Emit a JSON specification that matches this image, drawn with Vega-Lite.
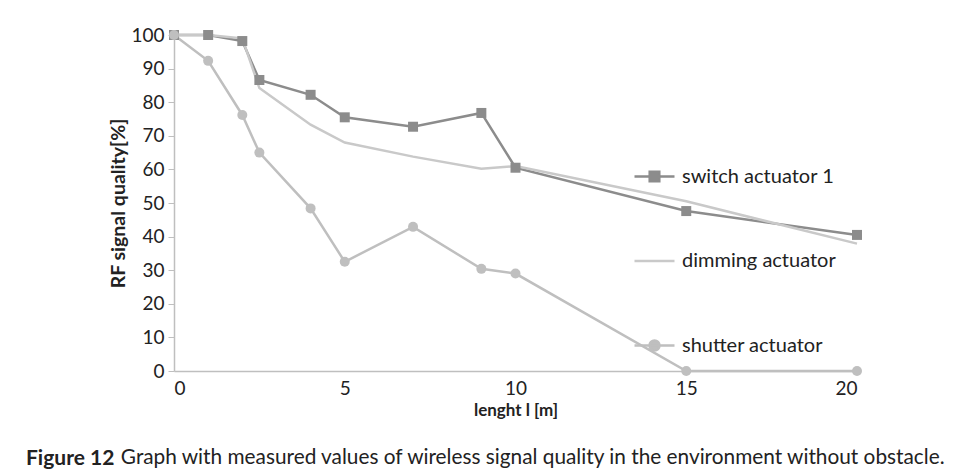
{
  "$schema": "https://vega.github.io/schema/vega-lite/v6.json",
  "width": 683,
  "height": 336,
  "autosize": {"type": "none"},
  "padding": {"left": 174, "top": 35, "right": 101, "bottom": 99},
  "background": "white",
  "config": {"view": {"stroke": null}, "font": "Lato"},
  "title": {
    "text": "Figure 12",
    "subtitle": "\u2800\u00a0\u00a0\u00a0\u00a0\u00a0\u00a0\u00a0\u00a0\u00a0\u00a0\u00a0\u00a0\u00a0\u00a0\u00a0Graph with measured values of wireless signal quality in the environment without obstacle.",
    "orient": "bottom",
    "anchor": "start",
    "frame": "group",
    "dx": -148,
    "offset": 30,
    "fontSize": 21,
    "fontWeight": "bold",
    "subtitleFontSize": 20.8,
    "subtitleFontWeight": "normal",
    "subtitlePadding": -21,
    "color": "#222222",
    "subtitleColor": "#222222"
  },
  "data": {
    "values": [
      {"series": "switch actuator 1", "length": 0, "quality": 100},
      {"series": "switch actuator 1", "length": 1, "quality": 100},
      {"series": "switch actuator 1", "length": 2, "quality": 98.2},
      {"series": "switch actuator 1", "length": 2.5, "quality": 86.6},
      {"series": "switch actuator 1", "length": 4, "quality": 82.2},
      {"series": "switch actuator 1", "length": 5, "quality": 75.5},
      {"series": "switch actuator 1", "length": 7, "quality": 72.7},
      {"series": "switch actuator 1", "length": 9, "quality": 76.8},
      {"series": "switch actuator 1", "length": 10, "quality": 60.5},
      {"series": "switch actuator 1", "length": 15, "quality": 47.6},
      {"series": "switch actuator 1", "length": 20, "quality": 40.5},
      {"series": "dimming actuator", "length": 0, "quality": 100},
      {"series": "dimming actuator", "length": 1, "quality": 100},
      {"series": "dimming actuator", "length": 2, "quality": 99},
      {"series": "dimming actuator", "length": 2.5, "quality": 84.2},
      {"series": "dimming actuator", "length": 4, "quality": 73.3},
      {"series": "dimming actuator", "length": 5, "quality": 68},
      {"series": "dimming actuator", "length": 7, "quality": 63.8},
      {"series": "dimming actuator", "length": 9, "quality": 60.2},
      {"series": "dimming actuator", "length": 10, "quality": 61},
      {"series": "dimming actuator", "length": 15, "quality": 50.5},
      {"series": "dimming actuator", "length": 20, "quality": 37.9},
      {"series": "shutter actuator", "length": 0, "quality": 100},
      {"series": "shutter actuator", "length": 1, "quality": 92.3},
      {"series": "shutter actuator", "length": 2, "quality": 76.2},
      {"series": "shutter actuator", "length": 2.5, "quality": 65},
      {"series": "shutter actuator", "length": 4, "quality": 48.4},
      {"series": "shutter actuator", "length": 5, "quality": 32.5},
      {"series": "shutter actuator", "length": 7, "quality": 42.9},
      {"series": "shutter actuator", "length": 9, "quality": 30.4},
      {"series": "shutter actuator", "length": 10, "quality": 29},
      {"series": "shutter actuator", "length": 15, "quality": 0},
      {"series": "shutter actuator", "length": 20, "quality": 0}
    ]
  },
  "encoding": {
    "x": {
      "field": "length",
      "type": "quantitative",
      "scale": {"domain": [0, 20], "nice": false, "zero": false},
      "axis": {
        "title": "lenght l [m]",
        "values": [0, 5, 10, 15, 20],
        "grid": false,
        "ticks": false,
        "domainColor": "#bfbfbf",
        "domainWidth": 1.5,
        "labelFontSize": 19,
        "labelColor": "#222222",
        "labelPadding": 8,
        "titleFontSize": 17,
        "titleFontWeight": "bold",
        "titleColor": "#222222",
        "titlePadding": 4
      }
    },
    "y": {
      "field": "quality",
      "type": "quantitative",
      "scale": {"domain": [0, 100], "nice": false},
      "axis": {
        "title": "RF signal quality[%]",
        "values": [0, 10, 20, 30, 40, 50, 60, 70, 80, 90, 100],
        "grid": false,
        "ticks": true,
        "tickSize": 6,
        "tickColor": "#bfbfbf",
        "domainColor": "#bfbfbf",
        "domainWidth": 1.5,
        "labelFontSize": 19,
        "labelColor": "#222222",
        "labelPadding": 4,
        "titleFontSize": 19.5,
        "titleFontWeight": "bold",
        "titleColor": "#222222",
        "titlePadding": 2
      }
    },
    "color": {
      "field": "series",
      "type": "nominal",
      "scale": {
        "domain": ["switch actuator 1", "dimming actuator", "shutter actuator"],
        "range": ["#8c8c8c", "#c9c9c9", "#bfbfbf"]
      },
      "legend": {
        "orient": "none",
        "legendX": 459,
        "legendY": 120,
        "title": null,
        "symbolSize": 1600,
        "symbolStrokeWidth": 2.5,
        "rowPadding": 52.5,
        "labelFontSize": 20,
        "labelColor": "#222222",
        "labelOffset": 6,
        "labelLimit": 300,
        "encode": {
          "symbols": {
            "update": {
              "shape": {"signal": "datum.value === 'switch actuator 1' ? 'M-1,0H1M-0.24,-0.24H0.24V0.24H-0.24Z' : (datum.value === 'shutter actuator' ? 'M-1,0H1M0.25,0A0.25,0.25,0,1,1,-0.25,0A0.25,0.25,0,1,1,0.25,0Z' : 'M-1,0H1')"},
              "fill": {"signal": "scale('color', datum.value)"},
              "stroke": {"signal": "scale('color', datum.value)"},
              "opacity": {"value": 1},
              "fillOpacity": {"value": 1},
              "strokeOpacity": {"value": 1}
            }
          }
        }
      }
    }
  },
  "layer": [
    {
      "mark": {"type": "line", "strokeWidth": 2.5}
    },
    {
      "transform": [{"filter": "datum.series !== 'dimming actuator'"}],
      "mark": {"type": "point", "filled": true, "size": 100, "opacity": 1},
      "encoding": {
        "shape": {
          "field": "series",
          "type": "nominal",
          "scale": {"domain": ["switch actuator 1", "shutter actuator"], "range": ["square", "circle"]},
          "legend": null
        }
      }
    }
  ]
}
